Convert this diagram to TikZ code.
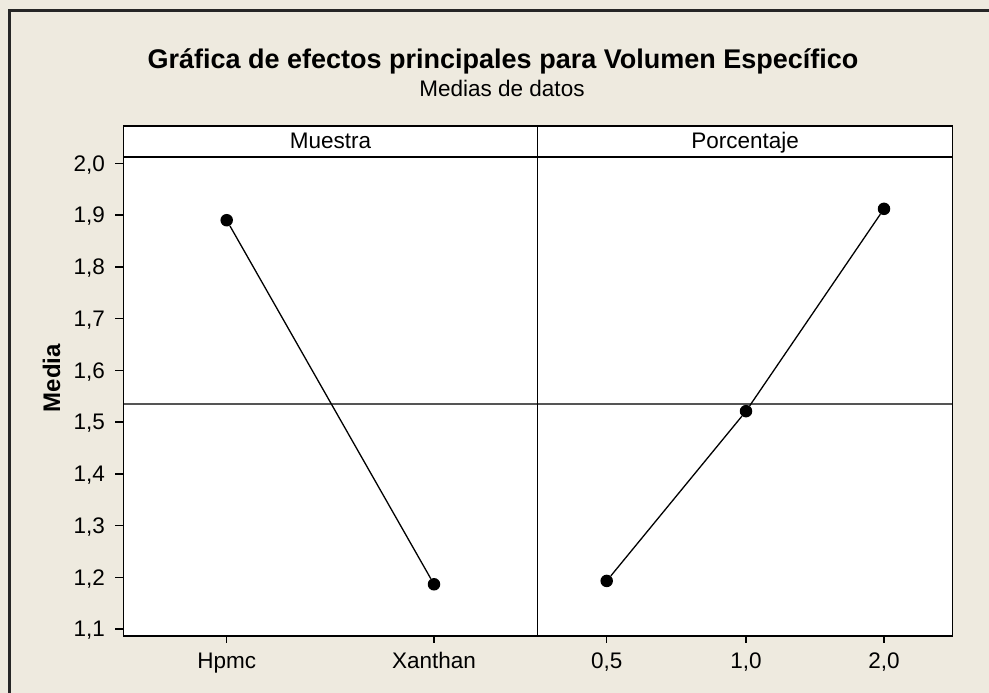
\documentclass[tikz,border=0pt]{standalone}
\usepackage{fontspec}
\setmainfont{Liberation Sans}
\definecolor{fondo}{RGB}{238,234,223}
\definecolor{refgris}{RGB}{85,85,85}
\newcommand{\ymed}[1]{163.3+(2.0-#1)*517.5}

\begin{document}
\begin{tikzpicture}[x=1pt,y=-1pt,
  etiq/.style={font=\fontsize{22.5}{25}\selectfont},
  punto/.style={circle,fill=black,inner sep=0pt,minimum size=12.5pt},
  eje/.style={line width=1.5pt}]
  \fill[fondo] (0,0) rectangle (989,693);
  \useasboundingbox (0,0) rectangle (989,693);
  \draw[line width=2.5pt,black!85] (9.5,693) -- (9.5,10.5) -- (989,10.5);
  % titulos
  \node[font=\bfseries\fontsize{27}{30}\selectfont,anchor=base] (titulo) at (503,68.3)
    {Gráfica de efectos principales para Volumen Específico};
  \node[etiq,anchor=base] (subtitulo) at (502,97) {Medias de datos};
  \node[font=\bfseries\fontsize{24}{26}\selectfont,rotate=90,anchor=base] (media) at (60,378) {Media};
  % paneles
  \fill[white] (123.3,126) rectangle (952.7,636);
  \draw[refgris,line width=1.5pt] (123.3,{\ymed{1.535}}) -- (952.7,{\ymed{1.535}});
  \draw[eje] (123.3,126) rectangle (952.7,636);
  \draw[line width=2pt] (123.3,156.7) -- (952.7,156.7);
  \draw[eje] (537.7,126) -- (537.7,636);
  \node[etiq,anchor=base] (muestra) at (330.5,148.5) {Muestra};
  \node[etiq,anchor=base] (porcentaje) at (745.2,148.5) {Porcentaje};
  % eje y
  \foreach \v/\lab in {1.1/{1,1},1.2/{1,2},1.3/{1,3},1.4/{1,4},1.5/{1,5},
                       1.6/{1,6},1.7/{1,7},1.8/{1,8},1.9/{1,9},2.0/{2,0}}{
    \draw[eje] (115,{\ymed{\v}}) -- (123.3,{\ymed{\v}});
    \node[etiq,anchor=base east] (y\v) at (108.5,{\ymed{\v}+7.8}) {\lab};
  }
  % eje x
  \foreach \x/\lab/\n in {226.7/Hpmc/a,434/Xanthan/b,606.7/{0,5}/c,746/{1,0}/d,884/{2,0}/e}{
    \draw[eje] (\x,636) -- (\x,643);
    \node[etiq,anchor=base] (x\n) at (\x,668) {\lab};
  }
  % medias
  \node[punto] (hpmc) at (226.7,{\ymed{1.890}}) {};
  \node[punto] (xanthan) at (434,{\ymed{1.1865}}) {};
  \node[punto] (p05) at (606.7,{\ymed{1.193}}) {};
  \node[punto] (p10) at (746,{\ymed{1.521}}) {};
  \node[punto] (p20) at (884,{\ymed{1.912}}) {};
  \draw[line width=1.3pt] (hpmc) -- (xanthan);
  \draw[line width=1.3pt] (p05) -- (p10) -- (p20);
\end{tikzpicture}
\end{document}
